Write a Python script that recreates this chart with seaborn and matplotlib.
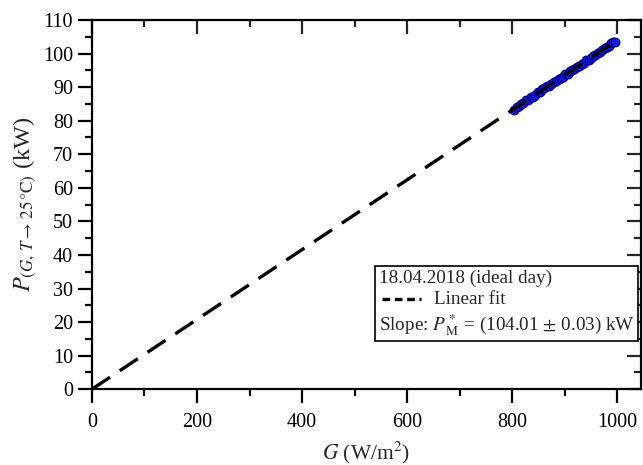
import numpy as np
import pandas as pd
import matplotlib
matplotlib.use('Agg')
import matplotlib.pyplot as plt
import seaborn as sns
from matplotlib.ticker import MultipleLocator
from matplotlib.lines import Line2D
from matplotlib.offsetbox import AnchoredOffsetbox, TextArea, DrawingArea, HPacker, VPacker

# measured points, 18.04.2018 (G in W/m2, P in kW)
g_meas = [803, 808, 812, 817, 821, 826, 830, 835, 839, 843, 848, 852, 857, 861,
          866, 870, 874, 879, 883, 888, 892, 896, 901, 905, 910, 914, 918, 923,
          927, 932, 936, 941, 945, 949, 954, 958, 963, 967, 971, 976, 980, 984,
          988, 992, 996]
p_meas = [83.1, 84.0, 84.3, 85.1, 85.3, 86.1, 86.2, 87.0, 87.2, 87.8, 88.4, 88.6,
          89.3, 89.6, 90.2, 90.4, 91.0, 91.5, 91.8, 92.4, 92.7, 93.1, 93.8, 94.0,
          94.7, 95.0, 95.4, 96.1, 96.3, 97.0, 97.3, 98.0, 98.2, 98.6, 99.3, 99.6,
          100.3, 100.5, 101.0, 101.6, 102.0, 102.4, 103.1, 103.4, 103.5]

# linear fit through origin, slope 104.01 kW per 1000 W/m2
fit_g = [0, 1000]
fit_p = [0, 104.01]

legend_title = '18.04.2018 (ideal day)'
fit_label = 'Linear fit'
slope_label = r'Slope: $P^*_{\,\mathrm{M}}$ = (104.01 $\pm$ 0.03) kW'

sns.set_style('ticks')
plt.rcParams['font.family'] = ['Liberation Serif', 'DejaVu Serif']
plt.rcParams['mathtext.fontset'] = 'stix'

fig = plt.figure(figsize=(6.43, 4.65), dpi=100)
ax = fig.add_axes([0.143, 0.163, 0.854, 0.794])

df = pd.DataFrame({'G': g_meas, 'P': p_meas})
sns.scatterplot(data=df, x='G', y='P', ax=ax, color='#1a1ad6', edgecolor='#0000a0',
                linewidth=0.8, s=40, zorder=2)
sns.lineplot(x=fit_g, y=fit_p, ax=ax, color='black', linewidth=2.4, zorder=3)
ax.lines[-1].set_dashes((6.5, 3.5))

ax.set_xlim(0, 1045)
ax.set_ylim(0, 110)
ax.xaxis.set_major_locator(MultipleLocator(200))
ax.xaxis.set_minor_locator(MultipleLocator(100))
ax.yaxis.set_major_locator(MultipleLocator(10))
ax.yaxis.set_minor_locator(MultipleLocator(5))
ax.tick_params(which='both', direction='out', labelsize=14.5, width=1.6, colors='black')
ax.tick_params(which='major', length=10)
ax.tick_params(which='minor', length=5)
ax.tick_params(axis='x', pad=7)
for s in ax.spines.values():
    s.set_linewidth(1.6)
    s.set_color('black')
    s.set_visible(True)

# mirrored ticks on top and right, pointing inward
sec_x = ax.secondary_xaxis('top')
sec_x.xaxis.set_major_locator(MultipleLocator(200))
sec_x.xaxis.set_minor_locator(MultipleLocator(100))
sec_x.tick_params(which='both', direction='in', labeltop=False, width=1.6)
sec_x.tick_params(which='major', length=10)
sec_x.tick_params(which='minor', length=5)
sec_y = ax.secondary_yaxis('right')
sec_y.yaxis.set_major_locator(MultipleLocator(10))
sec_y.yaxis.set_minor_locator(MultipleLocator(5))
sec_y.tick_params(which='both', direction='in', labelright=False, width=1.6)
sec_y.tick_params(which='major', length=10)
sec_y.tick_params(which='minor', length=5)

ax.set_xlabel(r'$G$ (W/m$^2$)', fontsize=15.5, labelpad=6)
ax.set_ylabel(r'$P_{(G,\,T\rightarrow\,25\,°\mathrm{C})}$ (kW)', fontsize=17.5, labelpad=4)

# legend box
fs = 13.8
da = DrawingArea(32, 10, 0, 0)
da.add_artist(Line2D([2, 30], [5, 5], color='black', linewidth=2.4, dashes=(2.3, 1.4)))
row1 = TextArea(legend_title, textprops=dict(fontsize=fs))
row2 = HPacker(children=[da, TextArea(fit_label, textprops=dict(fontsize=fs))],
               align='center', pad=0, sep=8)
row3 = TextArea(slope_label, textprops=dict(fontsize=fs))
box = VPacker(children=[row1, row2, row3], align='left', pad=0, sep=3)
anch = AnchoredOffsetbox(loc='lower right', child=box, pad=0.25, borderpad=0,
                         frameon=True, bbox_to_anchor=(0.995, 0.13),
                         bbox_transform=ax.transAxes)
anch.patch.set_edgecolor('black')
anch.patch.set_linewidth(1.2)
anch.patch.set_boxstyle('square', pad=0)
anch.set_zorder(5)
ax.add_artist(anch)

fig.savefig('out.png', dpi=100)
